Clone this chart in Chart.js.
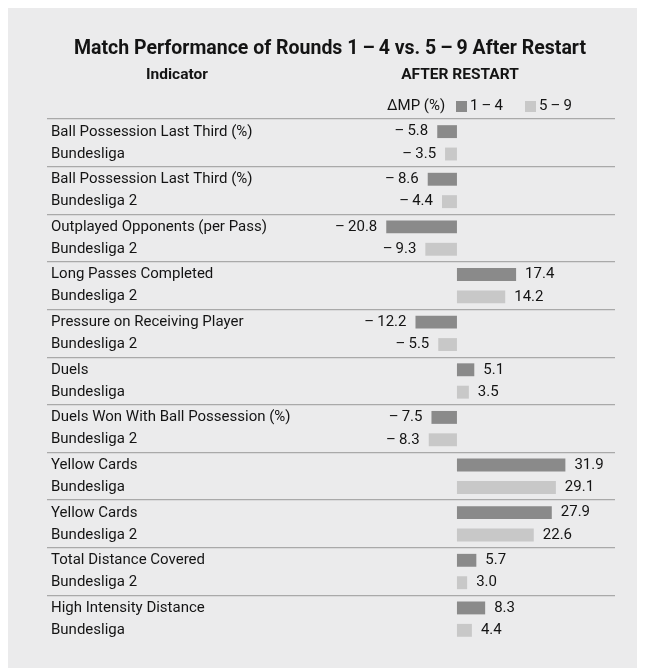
<!DOCTYPE html>
<html lang="en">
<head>
  <meta charset="UTF-8" />
  <title>Match Performance After Restart</title>
  <script src="https://cdn.jsdelivr.net/npm/chart.js"></script>
  <style>
    html, body {
      margin: 0;
      padding: 0;
      background: #ffffff;
    }

    .wrap {
      width: 645px;
      height: 668px;
      position: relative;
    }
  </style>
</head>
<body>
  <div class="wrap">
    <canvas id="perfChart"></canvas>
  </div>

  <script>
    // data
    const indicators = [
      'Ball Possession Last Third (%)',
      'Ball Possession Last Third (%)',
      'Outplayed Opponents (per Pass)',
      'Long Passes Completed',
      'Pressure on Receiving Player',
      'Duels',
      'Duels Won With Ball Possession (%)',
      'Yellow Cards',
      'Yellow Cards',
      'Total Distance Covered',
      'High Intensity Distance'
    ];
    const leagues = [
      'Bundesliga', 'Bundesliga 2', 'Bundesliga 2', 'Bundesliga 2', 'Bundesliga 2',
      'Bundesliga', 'Bundesliga 2', 'Bundesliga', 'Bundesliga 2', 'Bundesliga 2', 'Bundesliga'
    ];
    const rounds1to4 = [-5.8, -8.6, -20.8, 17.4, -12.2, 5.1, -7.5, 31.9, 27.9, 5.7, 8.3];
    const rounds5to9 = [-3.5, -4.4, -9.3, 14.2, -5.5, 3.5, -8.3, 29.1, 22.6, 3.0, 4.4];
    const seriesNames = ['1\u2009\u2013\u20094', '5\u2009\u2013\u20099'];

    const titleText = 'Match Performance of Rounds 1\u2009\u2013\u20094 vs. 5\u2009\u2013\u20099 After Restart';
    const colHeadLeft = 'Indicator';
    const colHeadRight = 'AFTER RESTART';
    const unitLabel = '\u0394MP (%)';

    const FONT = 'Roboto, "Noto Sans", sans-serif';
    const TEXT = '#141414';
    const DARK = '#8a8a8a';
    const LIGHT = '#c8c8c8';

    function fmt(v) {
      const s = Math.abs(v).toFixed(1);
      return v < 0 ? '\u2013\u2009' + s : s;
    }

    // grey panel, headings and the legend
    const framePlugin = {
      id: 'frame',
      beforeDraw(chart) {
        const ctx = chart.ctx;
        ctx.save();
        ctx.fillStyle = '#ebebec';
        ctx.fillRect(8, 8, 629, 660);
        ctx.restore();
      },
      afterDraw(chart) {
        const ctx = chart.ctx;
        ctx.save();
        ctx.fillStyle = TEXT;
        ctx.textBaseline = 'middle';
        ctx.textAlign = 'center';
        ctx.font = 'bold 19.5px ' + FONT;
        ctx.fillText(titleText, 330, 49);
        ctx.font = 'bold 15.5px ' + FONT;
        ctx.fillText(colHeadLeft, 177, 75);
        ctx.fillText(colHeadRight, 460, 75);

        // legend row
        ctx.font = '15px ' + FONT;
        ctx.textAlign = 'left';
        ctx.fillText(unitLabel, 387, 106);
        const sets = chart.data.datasets;
        const boxX = [456, 525];
        sets.forEach((ds, i) => {
          ctx.fillStyle = ds.backgroundColor;
          ctx.fillRect(boxX[i], 101, 11, 11);
          ctx.fillStyle = TEXT;
          ctx.fillText(ds.label, boxX[i] + 14, 106);
        });
        ctx.restore();
      },
      afterDatasetsDraw(chart) {
        const ctx = chart.ctx;
        ctx.save();
        ctx.font = '15px ' + FONT;
        ctx.fillStyle = TEXT;
        ctx.textBaseline = 'middle';
        chart.data.datasets.forEach((ds, di) => {
          const meta = chart.getDatasetMeta(di);
          meta.data.forEach((bar, i) => {
            const v = ds.data[i];
            if (v < 0) {
              ctx.textAlign = 'right';
              ctx.fillText(fmt(v), bar.x - 9, bar.y);
            } else {
              ctx.textAlign = 'left';
              ctx.fillText(fmt(v), bar.x + 9, bar.y);
            }
          });
        });
        ctx.restore();
      }
    };

    const rowLabels = indicators.map((name, i) => [name, leagues[i]]);

    new Chart(document.getElementById('perfChart'), {
      type: 'bar',
      data: {
        labels: rowLabels,
        datasets: [
          {
            label: seriesNames[0],
            data: rounds1to4,
            backgroundColor: DARK,
            categoryPercentage: 0.94,
            barPercentage: 0.576
          },
          {
            label: seriesNames[1],
            data: rounds5to9,
            backgroundColor: LIGHT,
            categoryPercentage: 0.94,
            barPercentage: 0.576
          }
        ]
      },
      options: {
        indexAxis: 'y',
        responsive: true,
        maintainAspectRatio: false,
        animation: false,
        layout: {
          padding: { top: 119, bottom: 21, left: 51, right: 30 }
        },
        plugins: {
          legend: { display: false },
          title: { display: false },
          tooltip: { enabled: false }
        },
        scales: {
          x: {
            display: false,
            min: -35,
            max: 46.5
          },
          y: {
            afterFit(scale) {
              scale.width = 287;
            },
            border: { display: false },
            grid: {
              offset: true,
              lineWidth: 1.3,
              tickLength: 291,
              color: (c) => c.type === 'tick' ? '#a9a9a9' : 'rgba(0,0,0,0)'
            },
            ticks: {
              crossAlign: 'far',
              color: TEXT,
              font: { family: FONT, size: 15, lineHeight: 1.47 }
            }
          }
        }
      },
      plugins: [framePlugin]
    });
  </script>
</body>
</html>
